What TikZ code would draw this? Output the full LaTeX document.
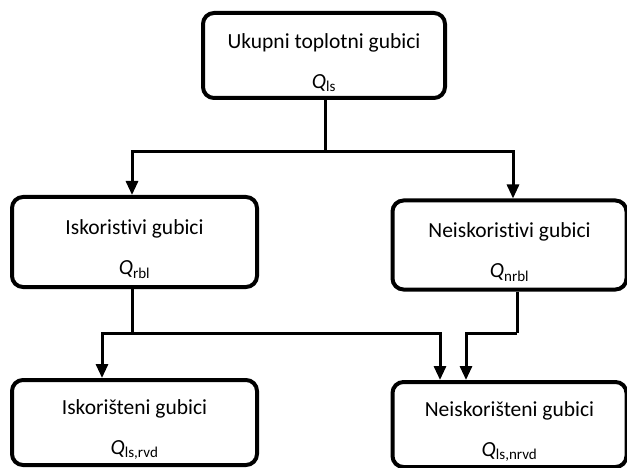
\documentclass[tikz,border=0pt]{standalone}
\usepackage{fontspec}
\setmainfont{Carlito}[Ligatures=NoCommon]
\usetikzlibrary{arrows.meta}
\tikzset{every path/.style={line width=3pt},
  gubitak/.style={draw,line width=4pt,rounded corners=11pt,align=center,
    font=\fontsize{21.5}{25}\selectfont,inner sep=0pt},
  tok/.style={-{Triangle[width=12pt,length=14pt]}}}
\newcommand{\Qsub}[1]{{\itshape Q}\textsubscript{#1}}
\newcommand{\prvi}{\rule{0pt}{29pt}}

\begin{document}
\begin{tikzpicture}[x=1pt,y=-1pt]
\useasboundingbox (0,0) rectangle (627,468);
\node[gubitak,minimum width=242pt,minimum height=85pt] (uk) at (324,55.5)
  {\prvi Ukupni toplotni gubici\\[15pt]\Qsub{ls}};
\node[gubitak,minimum width=245pt,minimum height=90pt] (rbl) at (134.5,242)
  {\prvi Iskoristivi gubici\\[15pt]\Qsub{rbl}};
\node[gubitak,minimum width=234pt,minimum height=89pt] (nrbl) at (509.5,245)
  {\prvi Neiskoristivi gubici\\[15pt]\Qsub{nrbl}};
\node[gubitak,minimum width=245pt,minimum height=85pt] (rvd) at (134.5,422.5)
  {\prvi Iskorišteni gubici\\[15pt]\Qsub{ls,rvd}};
\node[gubitak,minimum width=234pt,minimum height=85pt] (nrvd) at (509.5,424.5)
  {\prvi Neiskorišteni gubici\\[15pt]\Qsub{ls,nrvd}};
% grananje
\coordinate (r1) at (325,152);
\coordinate (r2) at (132,333);
\coordinate (r3) at (517,333);
\draw ([xshift=1pt]uk.south) -- (r1);
\draw[tok] (r1) -| ([xshift=-2.5pt]rbl.north);
\draw[tok] (r1) -| ([xshift=3.5pt]nrbl.north);
\draw ([xshift=-2.5pt]rbl.south) -- (r2);
\draw[tok] (r2) -| ([xshift=-32.5pt]rvd.north);
\draw[tok] (r2) -| ([xshift=-69.5pt]nrvd.north);
\draw ([xshift=7.5pt]nrbl.south) -- (r3);
\draw[tok] (r3) -| ([xshift=-43.5pt]nrvd.north);
\end{tikzpicture}
\end{document}
